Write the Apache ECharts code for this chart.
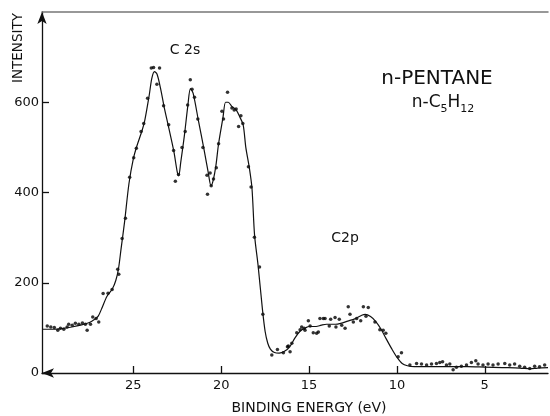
<!DOCTYPE html>
<html>
<head>
<meta charset="utf-8">
<script src="https://cdn.jsdelivr.net/npm/echarts@6/dist/echarts.min.js"></script>
<style>
  html, body { margin: 0; padding: 0; background: #fff; }
  #main { width: 550px; height: 416px; }
</style>
</head>
<body>
<div id="main"></div>
<script>
// fitted curve (binding energy in eV, intensity)
var curveEnergy = [30.2, 29.5, 29.0, 28.5, 28.0, 27.5, 27.2, 27.0, 26.8, 26.5, 26.2, 26.0, 25.85, 25.7, 25.5, 25.25, 25.0, 24.8, 24.5, 24.35, 24.1, 23.95, 23.8, 23.65, 23.45, 23.25, 23.0, 22.7, 22.5, 22.42, 22.3, 22.1, 21.9, 21.75, 21.6, 21.3, 21.0, 20.75, 20.58, 20.45, 20.3, 20.15, 19.9, 19.75, 19.6, 19.4, 19.15, 18.95, 18.75, 18.6, 18.4, 18.25, 18.1, 17.9, 17.65, 17.5, 17.35, 17.2, 17.0, 16.7, 16.4, 16.1, 15.8, 15.5, 15.2, 15.0, 14.6, 14.3, 14.0, 13.5, 13.2, 12.8, 12.4, 12.0, 11.8, 11.5, 11.2, 10.9, 10.6, 10.3, 10.0, 9.7, 9.4, 9.0, 8.0, 7.0, 6.0, 5.0, 4.0, 3.0, 2.4, 2.0, 1.4];
var curveIntensity = [97, 97, 99, 102, 106, 112, 119, 126, 143, 170, 186, 205, 230, 275, 335, 420, 475, 503, 538, 560, 615, 653, 668, 662, 630, 590, 546, 492, 445, 437, 468, 525, 592, 630, 620, 560, 500, 447, 415, 428, 460, 508, 566, 600, 600, 591, 583, 568, 550, 500, 455, 410, 305, 238, 140, 92, 66, 53, 46, 44, 48, 58, 78, 93, 100, 103, 103, 106, 108, 108, 110, 115, 120, 128, 130, 125, 114, 97, 75, 54, 35, 21, 16, 14, 14, 14, 14, 13, 12, 11, 9, 11, 12];

// measured points
var dotEnergy = [29.9, 29.7, 29.5, 29.3, 29.15, 28.96, 28.77, 28.68, 28.48, 28.3, 28.1, 27.9, 27.73, 27.63, 27.44, 27.31, 27.12, 26.97, 26.72, 26.44, 26.21, 25.89, 25.83, 25.64, 25.45, 25.21, 24.98, 24.83, 24.56, 24.41, 24.19, 23.98, 23.85, 23.51, 23.66, 23.28, 22.99, 22.71, 22.61, 22.43, 22.23, 22.05, 21.91, 21.76, 21.66, 21.52, 21.33, 21.04, 20.81, 20.78, 20.63, 20.57, 20.44, 20.28, 20.15, 19.96, 19.87, 19.64, 19.39, 19.26, 19.15, 19.01, 18.88, 18.77, 18.45, 18.3, 18.11, 17.82, 17.63, 17.12, 16.8, 16.46, 16.23, 16.18, 16.08, 15.98, 15.7, 15.51, 15.42, 15.28, 15.23, 15.04, 14.94, 14.76, 14.57, 14.47, 14.38, 14.19, 14.09, 13.85, 13.77, 13.52, 13.47, 13.28, 13.14, 12.95, 12.77, 12.67, 12.48, 12.29, 12.06, 11.91, 11.76, 11.63, 11.25, 10.97, 10.78, 10.63, 9.93, 9.74, 9.26, 8.88, 8.6, 8.31, 8.03, 7.75, 7.56, 7.4, 7.18, 6.99, 6.8, 6.61, 6.33, 6.04, 5.76, 5.51, 5.38, 5.1, 4.81, 4.53, 4.24, 3.86, 3.58, 3.3, 3.01, 2.73, 2.44, 2.16, 1.88, 1.59];
var dotIntensity = [104, 102, 101, 95, 99, 97, 102, 108, 106, 110, 108, 111, 108, 95, 108, 124, 121, 113, 176, 177, 185, 230, 219, 298, 343, 434, 477, 498, 535, 553, 609, 676, 677, 676, 640, 592, 550, 493, 425, 440, 500, 535, 594, 650, 629, 611, 563, 500, 438, 396, 443, 415, 430, 455, 508, 580, 563, 622, 587, 583, 585, 546, 570, 553, 457, 412, 301, 235, 130, 40, 52, 45, 58, 60, 47, 66, 89, 96, 102, 99, 95, 116, 104, 89, 88, 91, 121, 121, 121, 104, 119, 123, 102, 119, 106, 99, 147, 130, 113, 121, 116, 147, 126, 145, 113, 96, 95, 88, 36, 45, 18, 21, 20, 18, 20, 21, 23, 25, 18, 20, 7, 13, 15, 18, 23, 27, 20, 18, 20, 18, 20, 21, 18, 20, 15, 13, 10, 15, 14, 18];

var xTicks = [25, 20, 15, 10, 5];
var yTicks = [0, 200, 400, 600];

var curveData = curveEnergy.map(function (e, i) { return [e, curveIntensity[i]]; });
var dotData = dotEnergy.map(function (e, i) { return [e, dotIntensity[i]]; });

var font = 'DejaVu Sans';
var myChart = echarts.init(document.getElementById('main'));

var option = {
    backgroundColor: '#fff',
    animation: false,
    grid: { left: 42, right: 2, top: 12, bottom: 43 },
    xAxis: [
        {
            type: 'value',
            inverse: true,
            min: 1.4,
            max: 30.2,
            axisLine: {
                lineStyle: { color: '#111', width: 1.3 },
                symbol: ['arrow', 'none'],   // inverse axis: start sits on the left
                symbolSize: [7, 12]
            },
            axisTick: { show: true, inside: true, length: 7, customValues: xTicks, lineStyle: { color: '#111', width: 1.3 } },
            axisLabel: { customValues: xTicks, color: '#111', fontFamily: font, fontSize: 13, margin: 6 },
            splitLine: { show: false }
        },
        {
            type: 'value',
            position: 'top',
            inverse: true,
            min: 1.4,
            max: 30.2,
            axisLine: { lineStyle: { color: '#777', width: 1.5 } },
            axisTick: { show: false },
            axisLabel: { show: false },
            splitLine: { show: false }
        }
    ],
    yAxis: {
        type: 'value',
        min: 0,
        max: 800,
        axisLine: {
            show: true,
            lineStyle: { color: '#111', width: 1.3 },
            symbol: ['none', 'arrow'],
            symbolSize: [7, 12]
        },
        axisTick: { show: true, inside: true, length: 7, customValues: yTicks, lineStyle: { color: '#111', width: 1.3 } },
        axisLabel: { customValues: yTicks, color: '#111', fontFamily: font, fontSize: 13, margin: 3 },
        splitLine: { show: false }
    },
    series: [
        {
            name: 'fit',
            type: 'line',
            data: curveData,
            smooth: 0.3,
            showSymbol: false,
            lineStyle: { color: '#111', width: 1.2 }
        },
        {
            name: 'points',
            type: 'scatter',
            data: dotData,
            symbolSize: 3.5,
            itemStyle: { color: '#000' }
        }
    ],
    graphic: [
        { type: 'text', x: 185, y: 50, style: { text: 'C 2s', font: '14px "DejaVu Sans"', fill: '#111', align: 'center', verticalAlign: 'middle' } },
        { type: 'text', x: 345, y: 238, style: { text: 'C2p', font: '14px "DejaVu Sans"', fill: '#111', align: 'center', verticalAlign: 'middle' } },
        { type: 'text', x: 437, y: 79, style: { text: 'n-PENTANE', font: '20px "DejaVu Sans"', fill: '#111', align: 'center', verticalAlign: 'middle' } },
        {
            type: 'text', x: 443, y: 103,
            style: {
                text: '{a|n-C}{s|5}{a|H}{s|12}',
                align: 'center', verticalAlign: 'middle', fill: '#111',
                rich: {
                    a: { fontFamily: font, fontSize: 17, fill: '#111', verticalAlign: 'bottom' },
                    s: { fontFamily: font, fontSize: 11, fill: '#111', verticalAlign: 'bottom', padding: [0, 0, -3, 0] }
                }
            }
        },
        { type: 'text', x: 309, y: 408, style: { text: 'BINDING ENERGY (eV)', font: '14px "DejaVu Sans"', fill: '#111', align: 'center', verticalAlign: 'middle' } },
        { type: 'text', x: 18, y: 48, rotation: Math.PI / 2, style: { text: 'INTENSITY', font: '13.5px "DejaVu Sans"', fill: '#111', align: 'center', verticalAlign: 'middle' } }
    ]
};

myChart.setOption(option);
</script>
</body>
</html>
